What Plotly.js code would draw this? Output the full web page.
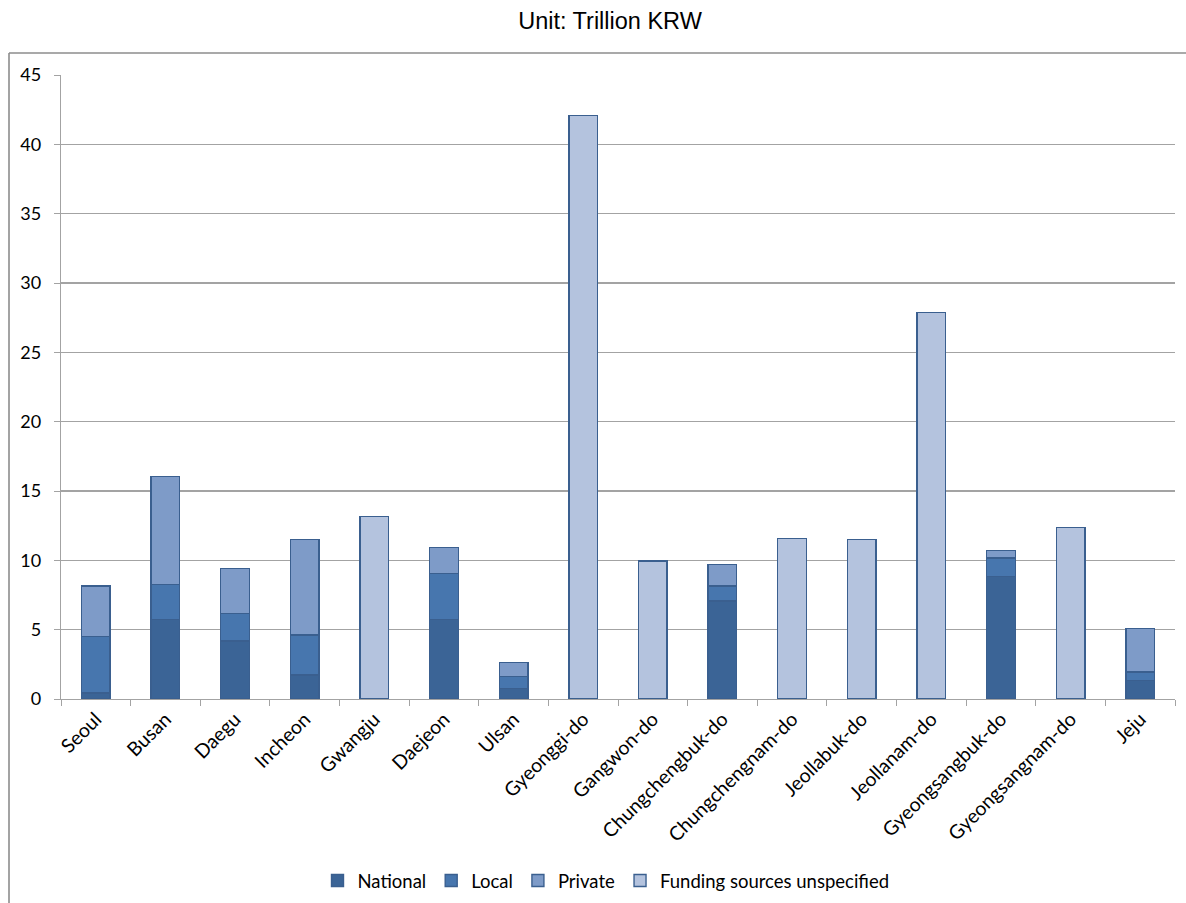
<!DOCTYPE html>
<html>
<head>
<meta charset="utf-8">
<script src="https://cdn.plot.ly/plotly-3.0.1.min.js"></script>
<style>
  html, body { margin: 0; padding: 0; background: #ffffff; }
  #chart { width: 1186px; height: 903px; }
</style>
</head>
<body>
<div id="chart"></div>
<script>
// Regional investment by funding source (trillion KRW)
const regions = ['Seoul', 'Busan', 'Daegu', 'Incheon', 'Gwangju', 'Daejeon', 'Ulsan',
  'Gyeonggi-do', 'Gangwon-do', 'Chungchengbuk-do', 'Chungchengnam-do', 'Jeollabuk-do',
  'Jeollanam-do', 'Gyeongsangbuk-do', 'Gyeongsangnam-do', 'Jeju'];

const nationalFunds    = [0.43, 5.72, 4.18, 1.73, null, 5.75, 0.77, null, null, 7.07, null, null, null, 8.85, null, 1.33];
const localFunds       = [4.09, 2.55, 2.00, 2.89, null, 3.32, 0.87, null, null, 1.08, null, null, null, 1.32, null, 0.62];
const privateFunds     = [3.63, 7.79, 3.22, 6.87, null, 1.87, 1.01, null, null, 1.56, null, null, null, 0.55, null, 3.13];
const unspecifiedFunds = [null, null, null, null, 13.15, null, null, 42.08, 9.95, null, 11.59, 11.49, 27.88, null, 12.38, null];

const seriesNames = ['National', 'Local', 'Private', 'Funding sources unspecified'];
const seriesColors = ['#3b6496', '#4776ae', '#7e9bc8', '#b4c3de'];
const seriesValues = [nationalFunds, localFunds, privateFunds, unspecifiedFunds];

const outline = '#3a5f8f';

const traces = seriesValues.map((vals, i) => ({
  type: 'bar',
  name: seriesNames[i],
  x: regions,
  y: vals,
  marker: { color: seriesColors[i], line: { color: outline, width: 1.4 } },
  hoverinfo: 'x+y+name'
}));

const fontFamily = 'Lato, "Liberation Sans", sans-serif';
const yLabelFont = { family: fontFamily, size: 18, color: '#000000' };
const xLabelFont = { family: fontFamily, size: 19.5, color: '#000000' };
const legendFont = { family: fontFamily, size: 18.5, color: '#000000' };
const gridGray = '#a3a3a3';

// plot area spans x 61..1175 and y 75..699 px
const W = 1186, H = 903;
const plotLeft = 61, plotRight = 1175, plotTop = 75, plotBottom = 699;
const pw = plotRight - plotLeft, ph = plotBottom - plotTop;
const px = v => (v - plotLeft) / pw;
const py = v => (plotBottom - v) / ph;

const layout = {
  width: W,
  height: H,
  margin: { l: plotLeft, r: W - plotRight, t: plotTop, b: H - plotBottom, pad: 0, autoexpand: false },
  paper_bgcolor: '#ffffff',
  plot_bgcolor: '#ffffff',
  barmode: 'stack',
  bargap: 0.59,
  title: {
    text: 'Unit: Trillion KRW',
    font: { family: '"Liberation Sans", Arial, sans-serif', size: 23.5, color: '#000000' },
    xref: 'container', x: 610 / W, xanchor: 'center',
    yref: 'container', y: 1 - 21 / H, yanchor: 'middle'
  },
  xaxis: {
    type: 'category',
    automargin: false,
    tickangle: -45,
    tickfont: xLabelFont,
    ticks: 'outside',
    ticklen: 6,
    tickcolor: gridGray,
    tickson: 'boundaries',
    showline: true,
    linecolor: gridGray,
    linewidth: 1.2,
    showgrid: false,
    fixedrange: true
  },
  yaxis: {
    automargin: false,
    range: [0, 45],
    dtick: 5,
    tickfont: yLabelFont,
    ticks: 'outside',
    ticklen: 6,
    tickcolor: gridGray,
    ticklabelstandoff: 9,
    showline: true,
    linecolor: gridGray,
    linewidth: 1.2,
    showgrid: true,
    gridcolor: gridGray,
    gridwidth: 1.2,
    zeroline: false,
    fixedrange: true
  },
  legend: {
    orientation: 'h',
    xref: 'container', x: 606 / W, xanchor: 'center',
    yref: 'container', y: 1 - 881 / H, yanchor: 'middle',
    font: legendFont,
    itemwidth: 30,
    traceorder: 'normal',
    bgcolor: 'rgba(0,0,0,0)'
  },
  shapes: [
    // outer chart frame: top and left edges
    { type: 'line', xref: 'paper', yref: 'paper', x0: px(9), x1: px(1190), y0: py(53), y1: py(53),
      line: { color: '#8c8c8c', width: 1.6 } },
    { type: 'line', xref: 'paper', yref: 'paper', x0: px(9), x1: px(9), y0: py(53), y1: py(910),
      line: { color: '#8c8c8c', width: 1.6 } }
  ],
  showlegend: true
};

Plotly.newPlot('chart', traces, layout, { displayModeBar: false, staticPlot: true });
</script>
</body>
</html>
